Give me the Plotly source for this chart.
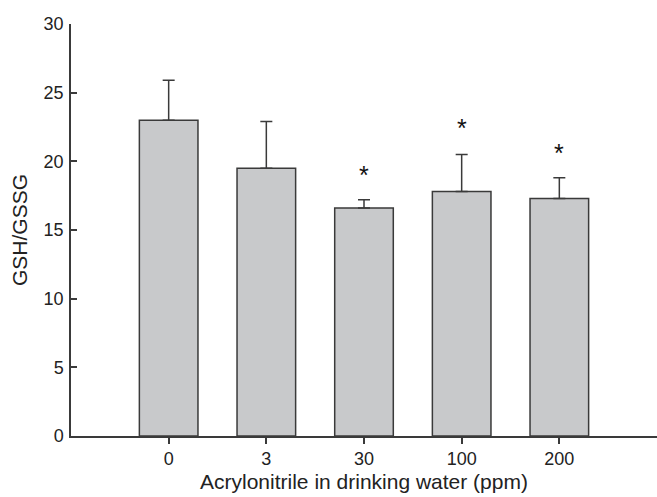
import plotly.graph_objects as go

categories = ["0", "3", "30", "100", "200"]
means = [23.0, 19.5, 16.6, 17.8, 17.3]
err_up = [2.9, 3.4, 0.6, 2.7, 1.5]
significant = [False, False, True, True, True]
star_y = [None, None, 19.4, 22.8, 21.0]

x_pos = list(range(len(categories)))
dark = "#3a3a3a"

fig = go.Figure()
fig.add_trace(go.Bar(
    x=x_pos, y=means, width=0.6,
    marker=dict(color="#c8c9cb", line=dict(color=dark, width=1.5)),
    error_y=dict(type="data", symmetric=False, array=err_up,
                 arrayminus=[0] * len(means), color=dark, thickness=1.5, width=6),
))

for xi, sig, sy in zip(x_pos, significant, star_y):
    if sig:
        fig.add_annotation(x=xi, y=sy, text="*", showarrow=False,
                           font=dict(size=25, color="#111", family="Liberation Sans, Arial"),
                           yanchor="middle", yshift=-5)

fig.update_layout(
    width=657, height=497,
    margin=dict(l=71, r=0, t=24, b=61),
    paper_bgcolor="white", plot_bgcolor="white",
    showlegend=False,
    font=dict(family="Liberation Sans, Arial", size=18, color="#222"),
    xaxis=dict(range=[-1, 5], tickvals=x_pos, ticktext=categories,
               showline=True, linecolor=dark, linewidth=1.5,
               ticks="outside", ticklen=6, tickcolor=dark, tickwidth=1.5,
               showgrid=False, zeroline=False,
               title=dict(text="Acrylonitrile in drinking water (ppm)", standoff=6,
                          font=dict(size=21))),
    yaxis=dict(range=[0, 30], tickvals=[0, 5, 10, 15, 20, 25, 30],
               showline=True, linecolor=dark, linewidth=1.5,
               ticks="inside", ticklen=6, tickcolor=dark, tickwidth=1.5,
               ticklabelstandoff=2,
               showgrid=False, zeroline=False,
               title=dict(text="GSH/GSSG", standoff=10, font=dict(size=21))),
)

fig.write_html("out.html")
